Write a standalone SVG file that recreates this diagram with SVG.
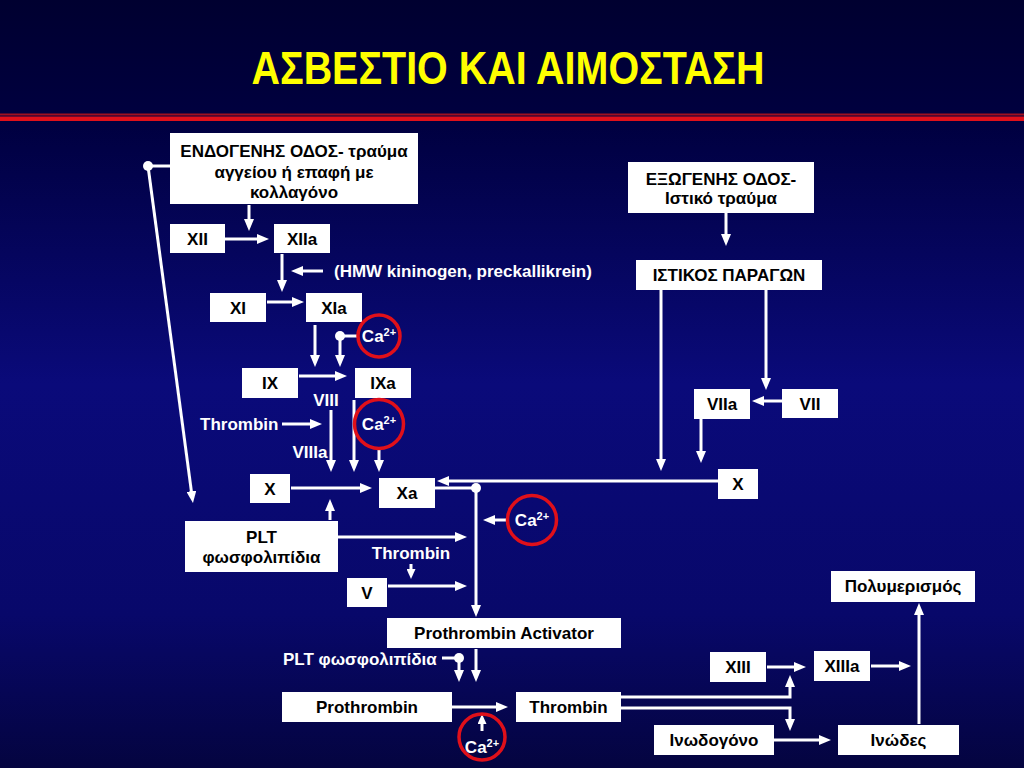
<svg xmlns="http://www.w3.org/2000/svg" width="1024" height="768" viewBox="0 0 1024 768">
<defs>
<linearGradient id="bg" x1="0" y1="0" x2="0" y2="1">
<stop offset="0" stop-color="#000030"/>
<stop offset="0.16" stop-color="#000040"/>
<stop offset="0.5" stop-color="#0a0a7a"/>
<stop offset="0.8" stop-color="#08086a"/>
<stop offset="1" stop-color="#040440"/>
</linearGradient>
<marker id="ah" markerUnits="userSpaceOnUse" markerWidth="12" markerHeight="10" refX="4" refY="5" orient="auto">
<path d="M0,0 L12,5 L0,10 z" fill="#fff"/>
</marker>
<marker id="ahs" markerUnits="userSpaceOnUse" markerWidth="10" markerHeight="9" refX="3" refY="4.5" orient="auto">
<path d="M0,0 L10,4.5 L0,9 z" fill="#fff"/>
</marker>
</defs>
<style>
.box{fill:#fff}
.bt{font-family:"Liberation Sans",Arial,sans-serif;font-weight:bold;font-size:17px;fill:#000;text-anchor:middle}
.lb{font-family:"Liberation Sans",Arial,sans-serif;font-weight:bold;font-size:17px;fill:#fff}
.ca{font-family:"Liberation Sans",Arial,sans-serif;font-weight:bold;font-size:17px;fill:#fff;text-anchor:middle}
.sup{font-size:11px}
.cc{fill:none;stroke:#e0101a;stroke-width:3.5}
.cn{fill:none;stroke:#fff;stroke-width:3;marker-end:url(#ah)}
.cs{fill:none;stroke:#fff;stroke-width:3;marker-end:url(#ahs)}
.pl{fill:none;stroke:#fff;stroke-width:3}
.dot{fill:#fff}
</style>
<rect x="0" y="0" width="1024" height="768" fill="url(#bg)"/>
<text x="508" y="84" font-family="'Liberation Sans Narrow','Liberation Sans',Arial,sans-serif" font-weight="bold" font-size="47" fill="#ffff00" text-anchor="middle" textLength="513" lengthAdjust="spacingAndGlyphs">ΑΣΒΕΣΤΙΟ ΚΑΙ ΑΙΜΟΣΤΑΣΗ</text>
<rect x="0" y="113.5" width="1024" height="2" fill="#a01020"/>
<rect x="0" y="116.5" width="1024" height="4.5" fill="#e0101a"/>

<g id="connectors">
<path class="cn" d="M249,205 V223"/>
<path class="cn" d="M223,239 H261"/>
<path class="cn" d="M282,254 V284"/>
<path class="cn" d="M323,271 H299"/>
<path class="cn" d="M267,302 H296"/>
<path class="cn" d="M315,325 V359"/>
<path class="pl" d="M340,336 H358"/>
<path class="cn" d="M340,336 V359"/>
<circle class="dot" cx="340" cy="336" r="5"/>
<path class="cn" d="M299,376 H339"/>
<path class="cn" d="M331,410 V464"/>
<path class="cn" d="M282,424 H314"/>
<path class="cn" d="M354,400 V464"/>
<path class="cn" d="M379,449 V464"/>
<path class="cn" d="M291,488 H364"/>
<path class="cn" d="M330,520 V507"/>
<path class="cn" d="M718,481 H445"/>
<path class="pl" d="M435,488 H476"/>
<path class="cn" d="M476,488 V609"/>
<circle class="dot" cx="476" cy="488" r="5"/>
<path class="cn" d="M507,520 H491"/>
<path class="cn" d="M338,537 H459"/>
<path class="cs" d="M411,564 V572"/>
<path class="cn" d="M388,586 H459"/>
<path class="pl" d="M442,658 H459"/>
<path class="cn" d="M459,658 V674"/>
<circle class="dot" cx="459" cy="658" r="5"/>
<path class="cn" d="M476,649 V674"/>
<path class="cn" d="M452,707 H500"/>
<path class="cs" d="M482,731 V721"/>
<path class="cn" d="M621,697 H790 V683"/>
<path class="cn" d="M621,708 H790 V723"/>
<path class="cn" d="M767,667 H798"/>
<path class="cn" d="M871,666 H903"/>
<path class="cn" d="M774,740 H823"/>
<path class="cn" d="M919,724 V611"/>
<path class="cn" d="M726,213 V238"/>
<path class="cn" d="M661,290 V463"/>
<path class="cn" d="M766,290 V382"/>
<path class="cn" d="M782,401 H760"/>
<path class="cn" d="M701,419 V455"/>
<path class="pl" d="M148,166 H170"/>
<path class="cn" d="M148,166 L191.9,495.1"/>
<circle class="dot" cx="148" cy="166" r="5"/>
</g>

<g id="endo"><rect class="box" x="170" y="133" width="248" height="71"/>
<text class="bt" x="294" y="157">ΕΝΔΟΓΕΝΗΣ ΟΔΟΣ- τραύμα</text>
<text class="bt" x="294" y="178">αγγείου ή επαφή με</text>
<text class="bt" x="294" y="198">κολλαγόνο</text></g>
<g id="xii"><rect class="box" x="170" y="224" width="55" height="29"/><text class="bt" x="197.5" y="244.5">XII</text></g>
<g id="xiia"><rect class="box" x="274" y="224" width="56" height="29"/><text class="bt" x="302" y="244.5">XIIa</text></g>
<g id="xi"><rect class="box" x="210" y="293" width="56" height="29"/><text class="bt" x="238" y="313.5">XI</text></g>
<g id="xia"><rect class="box" x="306" y="293" width="56" height="29"/><text class="bt" x="334" y="313.5">XIa</text></g>
<g id="ix"><rect class="box" x="242" y="368" width="56" height="30"/><text class="bt" x="270" y="389">IX</text></g>
<g id="ixa"><rect class="box" x="355" y="368" width="56" height="30"/><text class="bt" x="383" y="389">IXa</text></g>
<g id="xl"><rect class="box" x="250" y="474" width="40" height="29"/><text class="bt" x="270" y="494.5">X</text></g>
<g id="xa"><rect class="box" x="379" y="478" width="56" height="30"/><text class="bt" x="407" y="499">Xa</text></g>
<g id="plt"><rect class="box" x="185" y="521" width="153" height="51"/>
<text class="bt" x="261.5" y="543">PLT</text><text class="bt" x="261.5" y="563">φωσφολιπίδια</text></g>
<g id="v"><rect class="box" x="347" y="578" width="40" height="29"/><text class="bt" x="367" y="598.5">V</text></g>
<g id="pact"><rect class="box" x="387" y="618" width="234" height="30"/><text class="bt" x="504" y="639">Prothrombin Activator</text></g>
<g id="proth"><rect class="box" x="282" y="692" width="170" height="30"/><text class="bt" x="367" y="713">Prothrombin</text></g>
<g id="thromb"><rect class="box" x="516" y="692" width="105" height="30"/><text class="bt" x="568.5" y="713">Thrombin</text></g>
<g id="xiii"><rect class="box" x="710" y="652" width="56" height="30"/><text class="bt" x="738" y="673">XIII</text></g>
<g id="xiiia"><rect class="box" x="814" y="651" width="56" height="30"/><text class="bt" x="842" y="672">XIIIa</text></g>
<g id="fibrinogen"><rect class="box" x="654" y="725" width="120" height="30"/><text class="bt" x="714" y="746">Ινωδογόνο</text></g>
<g id="fibrin"><rect class="box" x="838" y="725" width="121" height="30"/><text class="bt" x="898.5" y="746">Ινώδες</text></g>
<g id="poly"><rect class="box" x="831" y="571" width="144" height="31"/><text class="bt" x="903" y="592">Πολυμερισμός</text></g>
<g id="exo"><rect class="box" x="628" y="162" width="186" height="51"/>
<text class="bt" x="721" y="185">ΕΞΩΓΕΝΗΣ ΟΔΟΣ-</text><text class="bt" x="721" y="204">Ιστικό τραύμα</text></g>
<g id="tf"><rect class="box" x="636" y="260" width="186" height="30"/><text class="bt" x="729" y="281">ΙΣΤΙΚΟΣ ΠΑΡΑΓΩΝ</text></g>
<g id="viia"><rect class="box" x="694" y="389" width="56" height="30"/><text class="bt" x="722" y="410">VIIa</text></g>
<g id="vii"><rect class="box" x="782" y="389" width="56" height="29"/><text class="bt" x="810" y="409.5">VII</text></g>
<g id="xr"><rect class="box" x="718" y="469" width="40" height="30"/><text class="bt" x="738" y="490">X</text></g>

<g id="ca1"><circle class="cc" cx="379" cy="336" r="21"/><text class="ca" x="379" y="342">Ca<tspan class="sup" dy="-6">2+</tspan></text></g>
<g id="ca2"><circle class="cc" cx="379" cy="424" r="24.5"/><text class="ca" x="379" y="430">Ca<tspan class="sup" dy="-6">2+</tspan></text></g>
<g id="ca3"><circle class="cc" cx="532" cy="520" r="24.5"/><text class="ca" x="532" y="526">Ca<tspan class="sup" dy="-6">2+</tspan></text></g>
<g id="ca4"><circle class="cc" cx="482" cy="737" r="23"/><text class="ca" x="482" y="753">Ca<tspan class="sup" dy="-6">2+</tspan></text></g>

<g id="labels">
<text class="lb" x="334" y="277">(HMW kininogen, preckallikrein)</text>
<text class="lb" x="326" y="406" text-anchor="middle">VIII</text>
<text class="lb" x="200" y="430">Thrombin</text>
<text class="lb" x="310" y="458" text-anchor="middle">VIIIa</text>
<text class="lb" x="411" y="559" text-anchor="middle">Thrombin</text>
<text class="lb" x="283" y="665">PLT φωσφολιπίδια</text>
</g>
</svg>
